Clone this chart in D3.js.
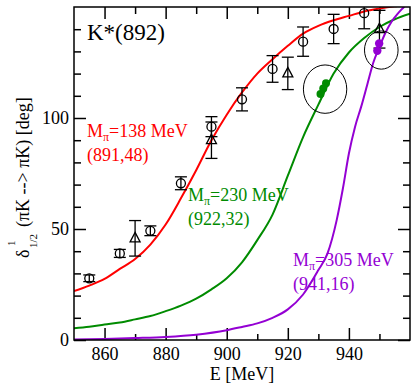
<!DOCTYPE html>
<html>
<head>
<meta charset="utf-8">
<script src="https://cdn.jsdelivr.net/npm/d3@7"></script>
<style>
  body { margin: 0; background: #fff; }
  svg { display: block; }
</style>
</head>
<body>
<svg id="chart" width="411" height="383"></svg>
<script>
// data
const circleE   = [855, 865, 875, 885, 895, 905, 915, 925, 935, 945];
const circleDeg = [27.8, 39.0, 49.2, 70.6, 96.1, 108.4, 122.1, 134.4, 140.1, 147.2];
const circleErr = [1.5, 1.8, 2.2, 2.9, 4.5, 5.2, 6.0, 6.6, 6.6, 7.0];

const triE   = [870, 895, 920, 950];
const triDeg = [45.8, 90.0, 120.1, 140.0];
const triErr = [8.0, 8.2, 7.3, 8.5];

const redE   = [850, 855, 860, 865, 870, 875, 880, 885, 890, 895, 900, 905, 910, 915, 920, 925, 930, 935, 940, 945, 950, 955, 960];
const redDeg = [22, 24.5, 27.5, 32, 36.5, 43, 52, 63.8, 76.5, 90, 101.5, 111.5, 120, 126.5, 132.5, 138, 141.5, 144, 146, 148, 149.3, 150.3, 151];

const greenE   = [850, 855, 860, 865, 870, 875, 880, 885, 890, 895, 900, 905, 910, 915, 920, 925, 930, 935, 940, 945, 950, 955, 960];
const greenDeg = [5.3, 6, 7, 7.9, 9.3, 10.8, 13, 15.5, 18.6, 22.8, 27.8, 35, 45, 56.5, 74, 91.4, 106, 120, 129.5, 136, 141, 144.5, 147];

const violetE   = [850, 860, 870, 880, 890, 900, 905, 910, 915, 920, 925, 930, 933, 936, 938, 940, 942, 944, 946, 948, 950, 952, 954, 956, 958, 960];
const violetDeg = [0.2, 0.5, 0.9, 1.4, 2.4, 4.4, 5.9, 7.5, 10, 13.8, 20.5, 31.5, 39, 54, 68, 84, 96, 105, 115, 125, 132, 138.5, 143.5, 147, 150, 153];

const greenDotE   = [930.7, 931.6, 932.5];
const greenDotDeg = [110.8, 113.3, 115.6];
const violetDotE   = [949.3, 949.9];
const violetDotDeg = [130.3, 133.6];

// error ellipses: [centerE, centerDeg, halfE, halfDeg]
const greenEllipse  = [932.2, 113.0, 7.1, 10.9];
const violetEllipse = [950.6, 130.6, 5.5, 8.6];

const xMajor = [860, 880, 900, 920, 940];
const xMinor = [870, 890, 910, 930, 950];
const yMajor = [0, 50, 100];
const yMinor = [10, 20, 30, 40, 60, 70, 80, 90, 110, 120, 130, 140];

const red = "#ff0000", green = "#008b00", violet = "#9400d3";
const serif = "'Liberation Serif', 'Times New Roman', serif";

const mLeft = 74, mRight = 410, mTop = 7, mBottom = 340;

const svg = d3.select("#chart");
const x = d3.scaleLinear().domain([850, 960]).range([mLeft, mRight]);
const y = d3.scaleLinear().domain([0, 150]).range([mBottom, mTop]);

svg.append("defs").append("clipPath").attr("id", "plot")
  .append("rect").attr("x", mLeft).attr("y", mTop)
  .attr("width", mRight - mLeft).attr("height", mBottom - mTop);

// axes with inward ticks on all four sides
function styleAxis(g) {
  g.select(".domain").remove();
  g.selectAll("line").attr("stroke", "#000").attr("stroke-width", 1.5);
  g.attr("font-family", serif).attr("font-size", 18);
  g.selectAll("text").attr("fill", "#000");
}
svg.append("g").attr("transform", `translate(0,${mBottom})`)
  .call(d3.axisBottom(x).tickValues(xMajor).tickSize(-12).tickPadding(7)).call(styleAxis);
svg.append("g").attr("transform", `translate(0,${mBottom})`)
  .call(d3.axisBottom(x).tickValues(xMinor).tickSize(-6).tickFormat("")).call(styleAxis);
svg.append("g").attr("transform", `translate(0,${mTop})`)
  .call(d3.axisTop(x).tickValues(xMajor).tickSize(-12).tickFormat("")).call(styleAxis);
svg.append("g").attr("transform", `translate(0,${mTop})`)
  .call(d3.axisTop(x).tickValues(xMinor).tickSize(-7).tickFormat("")).call(styleAxis);
svg.append("g").attr("transform", `translate(${mLeft},0)`)
  .call(d3.axisLeft(y).tickValues(yMajor).tickSize(-12).tickPadding(5)).call(styleAxis);
svg.append("g").attr("transform", `translate(${mLeft},0)`)
  .call(d3.axisLeft(y).tickValues(yMinor).tickSize(-7).tickFormat("")).call(styleAxis);
svg.append("g").attr("transform", `translate(${mRight},0)`)
  .call(d3.axisRight(y).tickValues(yMajor).tickSize(-12).tickFormat("")).call(styleAxis);
svg.append("g").attr("transform", `translate(${mRight},0)`)
  .call(d3.axisRight(y).tickValues(yMinor).tickSize(-7).tickFormat("")).call(styleAxis);

const plot = svg.append("g").attr("clip-path", "url(#plot)");

// curves
const line = d3.line().x(d => x(d[0])).y(d => y(d[1])).curve(d3.curveMonotoneX);
[[redE, redDeg, red], [greenE, greenDeg, green], [violetE, violetDeg, violet]].forEach(([es, ds, c]) => {
  plot.append("path")
    .attr("d", line(es.map((e, i) => [e, ds[i]])))
    .attr("fill", "none").attr("stroke", c).attr("stroke-width", 2);
});

// error bars
function errorBars(es, ds, errs) {
  const g = plot.append("g").attr("stroke", "#000").attr("stroke-width", 1.3).attr("fill", "none");
  es.forEach((e, i) => {
    const cx = x(e), lo = y(ds[i] - errs[i]), hi = y(ds[i] + errs[i]);
    g.append("line").attr("x1", cx).attr("x2", cx).attr("y1", lo).attr("y2", hi);
    g.append("line").attr("x1", cx - 6).attr("x2", cx + 6).attr("y1", lo).attr("y2", lo);
    g.append("line").attr("x1", cx - 6).attr("x2", cx + 6).attr("y1", hi).attr("y2", hi);
  });
}
errorBars(circleE, circleDeg, circleErr);
errorBars(triE, triDeg, triErr);

plot.append("g").selectAll("circle").data(circleE).enter().append("circle")
  .attr("cx", d => x(d)).attr("cy", (d, i) => y(circleDeg[i])).attr("r", 4.5)
  .attr("fill", "none").attr("stroke", "#000").attr("stroke-width", 1.3);

plot.append("g").selectAll("path").data(triE).enter().append("path")
  .attr("d", (d, i) => {
    const cx = x(d), cy = y(triDeg[i]);
    return `M${cx},${cy - 6}L${cx + 5},${cy + 3.5}L${cx - 5},${cy + 3.5}Z`;
  })
  .attr("fill", "none").attr("stroke", "#000").attr("stroke-width", 1.3);

// ellipses and lattice points
[greenEllipse, violetEllipse].forEach(el => {
  plot.append("ellipse")
    .attr("cx", x(el[0])).attr("cy", y(el[1]))
    .attr("rx", x(el[0] + el[2]) - x(el[0])).attr("ry", y(el[1]) - y(el[1] + el[3]))
    .attr("fill", "none").attr("stroke", "#000").attr("stroke-width", 1);
});
plot.append("g").selectAll("circle").data(greenDotE).enter().append("circle")
  .attr("cx", d => x(d)).attr("cy", (d, i) => y(greenDotDeg[i])).attr("r", 4).attr("fill", green);
plot.append("g").selectAll("circle").data(violetDotE).enter().append("circle")
  .attr("cx", d => x(d)).attr("cy", (d, i) => y(violetDotDeg[i])).attr("r", 4.2).attr("fill", violet);

// frame
svg.append("rect").attr("x", mLeft).attr("y", mTop)
  .attr("width", mRight - mLeft).attr("height", mBottom - mTop)
  .attr("fill", "none").attr("stroke", "#000").attr("stroke-width", 1.5);

// texts
const txt = svg.append("g").attr("font-family", serif);
txt.append("text").attr("x", 87).attr("y", 40).attr("font-size", 23).text("K*(892)");

const labelMass = ["138", "230", "305"];
const labelPar  = ["(891,48)", "(922,32)", "(941,16)"];
const labelPos  = [[87, 137, red], [188, 201, green], [293, 266, violet]];
labelPos.forEach(([lx, ly, c], i) => {
  const t = txt.append("text").attr("x", lx).attr("y", ly).attr("font-size", 18).attr("fill", c);
  t.append("tspan").text("M");
  t.append("tspan").attr("font-size", 12).attr("dy", 4).text("π");
  t.append("tspan").attr("dy", -4).text("=" + labelMass[i] + " MeV");
  txt.append("text").attr("x", lx).attr("y", ly + 24).attr("font-size", 18).attr("fill", c).text(labelPar[i]);
});

txt.append("text").attr("x", (mLeft + mRight) / 2).attr("y", 380)
  .attr("text-anchor", "middle").attr("font-size", 18).text("E [MeV]");

const yl = txt.append("g").attr("transform", "translate(29,258) rotate(-90)").attr("font-size", 18);
yl.append("text").attr("x", 0).attr("y", 0).text("δ");
yl.append("text").attr("x", 10).attr("y", 8).attr("font-size", 11).text("1/2");
yl.append("text").attr("x", 12).attr("y", -14).attr("font-size", 11).text("1");
yl.append("text").attr("x", 31).attr("y", 0).text("(πK --> πK) [deg]");
</script>
</body>
</html>
